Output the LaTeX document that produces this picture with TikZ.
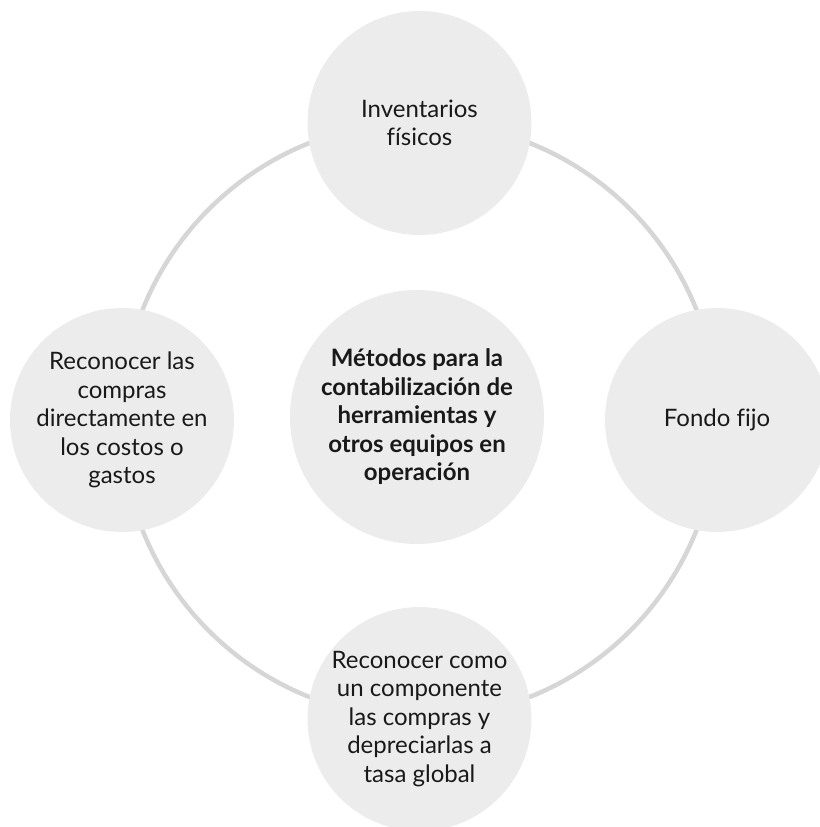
\documentclass[tikz,border=0pt]{standalone}
\usepackage{fontspec}
\setmainfont{Lato}[Ligatures=NoCommon]
\usepackage{xcolor}
\usepackage{tikz}
\usetikzlibrary{positioning, calc}

\definecolor{bubble}{RGB}{236,236,236}
\definecolor{ringgray}{RGB}{214,214,214}
\definecolor{inktext}{RGB}{25,25,25}

\begin{document}
\begin{tikzpicture}[x=1pt, y=-1pt,
    ring/.style={draw=ringgray, line width=4.5pt},
    bubble/.style={circle, fill=bubble, minimum size=224pt, inner sep=0pt, align=center, text=inktext, font=\fontsize{24}{28.5}\selectfont},
    hubnode/.style={bubble, minimum size=254pt, font=\fontsize{24}{28.5}\selectfont\bfseries}
]
\useasboundingbox (0,0) rectangle (819,827);

% Ring behind the bubbles
\coordinate (hub) at (419.5,420);
\draw[ring] (hub) circle (298);

% Outer bubbles
\node[bubble] (fisicos) at (419.5,123) {Inventarios\\físicos};
\node[bubble] (fondo) at (717,420) {Fondo fijo};
\node[bubble] (tasa) at (419.5,719) {Reconocer como\\un componente\\las compras y\\depreciarlas a\\tasa global};
\node[bubble] (gastos) at (122,420) {Reconocer las\\compras\\directamente en\\los costos o\\gastos};

% Centre
\node[hubnode] (metodos) at (417,417) {Métodos para la\\contabilización de\\herramientas y\\otros equipos en\\operación};
\end{tikzpicture}
\end{document}
